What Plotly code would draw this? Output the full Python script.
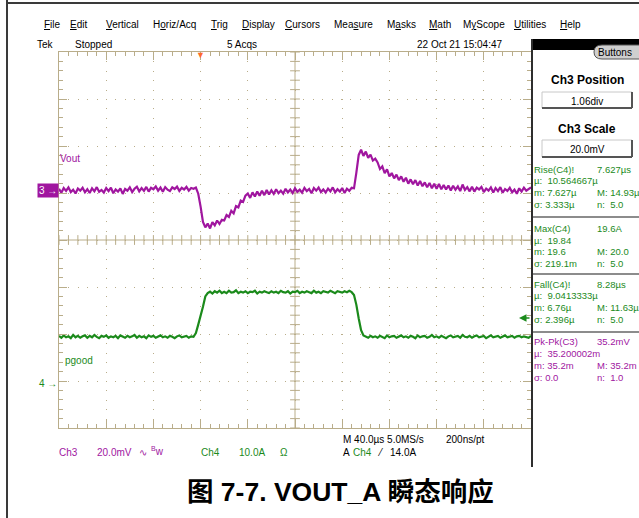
import numpy as np
import plotly.graph_objects as go

# ---- scope settings ----
TIME_DIV = 40.0                    # M 40.0us / div
T_LEFT = -120.0                    # trigger sits 3 div in from the left edge
CH3_SCALE, CH3_POS = 20.0, 1.06    # mV/div, div above centre
CH4_SCALE, CH4_POS = 10.0, -3.06   # A/div, div below centre
TRIG_LEVEL_A = 14.0

# time axis of the captured records (us)
t_us = list(range(-120, 281, 2))

# Ch3: Vout ripple (mV)
vout_mv = [
    0.6, -1.1, 0.9, -0.3, 1.2, -0.8, 0.2, -1.4, 0.7, -0.2,        # -120
    1.0, -0.9, 0.4, -1.2, 0.8, -0.5, 1.3, -0.7, 0.1, -1.0,        # -100
    0.9, -0.4, 1.1, -1.3, 0.3, -0.6, 0.8, -1.6, 0.5, -0.2,        # -80
    1.2, -0.8, 0.6, 1.5, -0.5, 0.9, -0.3, 1.4, -0.6, 1.0,         # -60
    0.4, 1.6, -0.2, 1.1, -0.7, 1.3, 0.2, -0.4, 1.2, 0.5,          # -40
    1.5, -0.3, 1.0, 0.3, 1.4, -0.2, 0.9, 0.6, 1.1, -1.5,          # -20
    -7.0, -13.5, -15.8, -14.2, -16.3, -13.6, -15.0, -12.9, -14.4, -12.6,  # 0
    -12.9, -10.6, -11.4, -8.8, -9.9, -6.8, -7.3, -4.4, -5.0, -2.3,        # 20
    -1.4, -3.3, -0.9, -2.7, -0.6, -2.4, -0.2, -2.1, 0.1, -1.8,    # 40
    -0.1, -1.6, 0.4, -1.3, -0.2, -1.5, 0.6, -0.9, 0.3, -1.2,      # 60
    0.8, -0.7, 0.2, -1.1, 1.0, -0.4, 0.5, -1.3, 0.9, -0.2,        # 80
    1.1, -0.8, 0.3, -1.0, 0.7, -0.5, 1.2, -0.9, 0.4, -0.6,        # 100
    0.9, -1.2, 0.6, -0.3, 1.0, 0.8, 7.5, 15.0, 17.2, 14.6,        # 120
    16.4, 13.8, 15.1, 12.6, 13.4, 11.8, 9.0, 10.1, 7.2, 8.9,      # 140
    5.9, 7.3, 5.0, 6.6, 4.3, 5.9, 3.6, 5.3, 2.8, 4.6,             # 160
    2.5, 4.3, 2.0, 3.9, 1.7, 3.3, 1.2, 3.1, 0.8, 2.7,             # 180
    0.6, 2.6, 0.4, 2.2, 0.3, 2.0, -0.1, 1.9, 0.2, 1.6,            # 200
    -0.4, 2.4, 0.1, 1.3, -0.5, 1.5, -0.6, 1.1, 0.3, 1.4,          # 220
    -0.8, 0.7, -0.2, 1.2, -1.0, 0.9, -0.4, 1.3, -1.1, 0.5,        # 240
    -0.3, 1.0, -0.9, 0.2, -1.5, 0.8, -0.6, 1.1, -0.2, 0.4,        # 260
    1.2,                                                          # 280
]

# Ch4: load current (A)
iload_a = [
    10.2, 9.8, 10.3, 9.9, 10.1, 9.7, 10.4, 9.9, 10.2, 9.8,        # -120
    10.1, 10.3, 9.8, 10.2, 9.9, 10.4, 10.0, 9.7, 10.2, 10.0,      # -100
    10.3, 9.8, 10.1, 9.9, 10.2, 9.7, 10.3, 10.0, 9.8, 10.2,       # -80
    9.9, 10.1, 10.4, 9.8, 10.2, 9.9, 10.1, 9.7, 10.3, 10.0,       # -60
    10.2, 9.8, 10.0, 10.3, 9.9, 10.1, 9.8, 10.2, 10.0, 9.7,       # -40
    10.1, 10.3, 9.9, 10.0, 10.2, 9.8, 10.1, 10.0, 10.8, 12.6,     # -20
    14.3, 16.4, 18.6, 19.3, 19.6, 19.2, 19.7, 19.4, 19.8, 19.3,   # 0
    19.6, 19.3, 19.8, 19.4, 19.5, 19.9, 19.3, 19.6, 19.4, 19.7,   # 20
    19.3, 19.6, 19.5, 19.8, 19.2, 19.6, 19.4, 19.7, 19.5, 19.3,   # 40
    19.7, 19.4, 19.6, 19.3, 19.8, 19.5, 19.4, 19.7, 19.2, 19.6,   # 60
    19.5, 19.8, 19.3, 19.6, 19.4, 19.7, 19.5, 19.3, 19.8, 19.4,   # 80
    19.6, 19.3, 19.7, 19.5, 19.4, 19.8, 19.6, 19.3, 19.7, 19.5,   # 100
    19.4, 19.7, 19.5, 19.8, 19.5, 18.9, 16.8, 13.9, 11.4, 10.3,   # 120
    10.1, 9.8, 10.2, 9.9, 10.1, 9.8, 10.2, 10.0, 9.7, 10.3,       # 140
    9.9, 10.1, 10.2, 9.8, 10.0, 10.3, 9.9, 10.1, 9.8, 10.2,       # 160
    10.0, 9.7, 10.3, 9.9, 10.1, 10.2, 9.8, 10.0, 10.4, 9.9,       # 180
    10.1, 9.8, 10.2, 10.0, 9.7, 10.1, 10.3, 9.9, 10.0, 10.2,      # 200
    9.8, 10.4, 10.0, 9.9, 10.2, 9.8, 10.1, 10.3, 9.9, 10.0,       # 220
    10.2, 9.7, 10.1, 10.3, 9.9, 10.0, 10.2, 9.8, 10.1, 10.3,      # 240
    9.9, 10.0, 10.2, 9.8, 10.1, 10.2, 9.9, 10.1, 10.0, 9.8,       # 260
    10.2,                                                         # 280
]

menu_items = ["<u>F</u>ile", "<u>E</u>dit", "<u>V</u>ertical", "H<u>o</u>riz/Acq", "<u>T</u>rig",
              "<u>D</u>isplay", "<u>C</u>ursors", "Mea<u>s</u>ure", "M<u>a</u>sks", "<u>M</u>ath",
              "M<u>y</u>Scope", "<u>U</u>tilities", "<u>H</u>elp"]
menu_x = [44, 70, 106, 153, 211, 242, 285, 334, 387, 429, 463, 514, 560]

# measurement readouts: name, value, mean, min, max, std-dev, count
meas_green = [
    ["Rise(C4)!", "7.627µs", "µ:  10.564667µ", "m: 7.627µ", "M: 14.93µ", "σ: 3.333µ", "n:  5.0"],
    ["Max(C4)", "19.6A", "µ:  19.84", "m: 19.6", "M: 20.0", "σ: 219.1m", "n:  5.0"],
    ["Fall(C4)!", "8.28µs", "µ:  9.0413333µ", "m: 6.76µ", "M: 11.63µ", "σ: 2.396µ", "n:  5.0"],
]
meas_purple = ["Pk-Pk(C3)", "35.2mV", "µ:  35.200002m", "m: 35.2m", "M: 35.2m", "σ: 0.0", "n:  1.0"]

PURPLE = "#a0169f"
GREEN = "#1b8a1b"
GRAT = "#b9ad8a"
UI = "Liberation Sans, Arial, sans-serif"

W, H = 639, 518
X0, X1, Y0, Y1 = 59, 531, 52, 428   # graticule box in page pixels


def px(x):
    return (x - X0) / (X1 - X0)


def py(y):
    return (Y1 - y) / (Y1 - Y0)


notes, shapes = [], []


def text(x, y, s, color="black", size=10, anchor="left", bold=False, family=UI):
    notes.append(dict(x=px(x), y=py(y), xref="paper", yref="paper",
                      text=f"<b>{s}</b>" if bold else s, showarrow=False,
                      xanchor=anchor, yanchor="middle", borderpad=0,
                      font=dict(family=family, size=size, color=color)))


def seg(x0, y0, x1, y1, color, w=1):
    shapes.append(dict(type="line", xref="paper", yref="paper", x0=px(x0), y0=py(y0),
                       x1=px(x1), y1=py(y1), line=dict(color=color, width=w)))


def rect(x0, y0, x1, y1, fill, line_color=None, w=1):
    shapes.append(dict(type="rect", xref="paper", yref="paper", x0=px(x0), y0=py(y0),
                       x1=px(x1), y1=py(y1), fillcolor=fill,
                       line=dict(color=line_color or fill, width=w if line_color else 0)))


fig = go.Figure()

# ---- graticule centre cross ticks ----
t_c = T_LEFT + 5 * TIME_DIV
tick_t = np.arange(T_LEFT, T_LEFT + 10 * TIME_DIV + 0.1, TIME_DIV / 5)
tick_d = np.arange(-4, 4.01, 0.2)
fig.add_trace(go.Scatter(x=tick_t, y=np.zeros_like(tick_t), mode="markers", hoverinfo="skip",
                         marker=dict(symbol="line-ns", size=7, line=dict(width=1, color=GRAT))))
fig.add_trace(go.Scatter(x=np.full_like(tick_d, t_c), y=tick_d, mode="markers", hoverinfo="skip",
                         marker=dict(symbol="line-ew", size=7, line=dict(width=1, color=GRAT))))
shapes.append(dict(type="line", xref="x", yref="y", x0=t_c, x1=t_c, y0=-4, y1=4,
                   line=dict(color=GRAT, width=1), layer="below"))
shapes.append(dict(type="line", xref="x", yref="y", x0=T_LEFT, x1=T_LEFT + 10 * TIME_DIV,
                   y0=0, y1=0, line=dict(color=GRAT, width=1), layer="below"))

# ---- waveforms ----
fig.add_trace(go.Scatter(x=t_us, y=vout_mv, yaxis="y2", mode="lines", name="Vout",
                         line=dict(color=PURPLE, width=2.2)))
fig.add_trace(go.Scatter(x=t_us, y=iload_a, yaxis="y3", mode="lines", name="pgood",
                         line=dict(color=GREEN, width=2.2)))

# trigger position / level markers
notes.append(dict(x=0, y=py(54), xref="x", yref="paper", text="▼", showarrow=False,
                  font=dict(size=9, color="#ff6a2a"), yanchor="middle"))
notes.append(dict(x=px(519), y=TRIG_LEVEL_A, xref="paper", yref="y3", text="", showarrow=True,
                  ax=12, ay=0, arrowhead=2, arrowsize=1, arrowwidth=1.5, arrowcolor=GREEN))
# channel ground markers
notes.append(dict(x=px(59), y=0, xref="paper", yref="y2", text="3 →", showarrow=False,
                  xanchor="right", yanchor="middle", bgcolor=PURPLE, borderpad=1,
                  font=dict(family=UI, size=10, color="white")))
notes.append(dict(x=px(59), y=0, xref="paper", yref="y3", text="4 →", showarrow=False,
                  xanchor="right", yanchor="middle",
                  font=dict(family=UI, size=10, color=GREEN)))
text(59, 158, "Vout", PURPLE)
text(64, 360, "pgood", GREEN)

# ---- window chrome ----
seg(7, 0, 7, H, "#3a3a3a", 2)
seg(7, 3, W, 3, "#3a3a3a", 2)
for s, x in zip(menu_items, menu_x):
    text(x - 1, 25, s)
text(36, 44, "Tek")
text(74, 44, "Stopped")
text(226, 44, "5 Acqs")
text(416, 44, "22 Oct 21 15:04:47")

# side panel
rect(532, 39, W, 50, "black")
shapes.append(dict(type="path", xref="paper", yref="paper",
                   path=f"M {px(602)},{py(45)} L {px(645)},{py(45)} L {px(645)},{py(59)} "
                        f"L {px(602)},{py(59)} Q {px(594)},{py(59)} {px(594)},{py(52)} "
                        f"Q {px(594)},{py(45)} {px(602)},{py(45)} Z",
                   fillcolor="#cfcfcf", line=dict(color="#555555", width=1)))
text(615, 52, "Buttons", size=10, anchor="center")
seg(532, 39, 532, 467, "#2e2e2e", 2)

text(587, 80, "Ch3 Position", size=12, anchor="center", bold=True)
rect(542, 92, 632, 108, "white", "#c8c8c8")
seg(542, 108, 632, 108, "#555555", 2)
seg(632, 92, 632, 108, "#555555", 2)
text(587, 101, "1.06div", anchor="center")
text(587, 129, "Ch3 Scale", size=12, anchor="center", bold=True)
rect(542, 140, 632, 157, "white", "#c8c8c8")
seg(542, 157, 632, 157, "#555555", 2)
seg(632, 140, 632, 157, "#555555", 2)
text(587, 149, "20.0mV", anchor="center")

row_y = [[169, 180, 192, 204], [228, 240, 251, 263], [284, 295, 307, 319], [341, 353, 365, 377]]
for block, ys, col in zip(meas_green + [meas_purple], row_y, [GREEN] * 3 + [PURPLE]):
    name, val, mu, lo, hi, sd, n = block
    text(533, ys[0], name, col, size=9.5)
    text(596, ys[0], val, col, size=9.5)
    text(533, ys[1], mu, col, size=9.5)
    text(533, ys[2], lo, col, size=9.5)
    text(596, ys[2], hi, col, size=9.5)
    text(533, ys[3], sd, col, size=9.5)
    text(596, ys[3], n, col, size=9.5)
for y in [217, 274, 332]:
    seg(533, y, W, y, "#8c8c8c", 2)

# status line under the graticule
text(58, 452, "Ch3", PURPLE)
text(96, 452, "20.0mV", PURPLE)
text(138, 452, "∿", PURPLE)
text(150, 451, "<sup>B</sup>w", PURPLE)
text(200, 452, "Ch4", GREEN)
text(238, 452, "10.0A", GREEN)
text(279, 452, "Ω", GREEN)
text(342, 439, "M 40.0µs 5.0MS/s")
text(445, 439, "200ns/pt")
text(342, 452, "A")
text(352, 452, "Ch4", GREEN)
text(376, 452, "⁄")
text(389, 452, "14.0A")

# caption
text(340, 492, "图 7-7. VOUT_A 瞬态响应", size=26.5, anchor="center", bold=True,
     family="Liberation Sans, Noto Sans CJK SC, sans-serif")

grat = dict(showline=True, linecolor=GRAT, linewidth=1, mirror="ticks",
            ticks="inside", ticklen=8, tickcolor=GRAT, tickwidth=1,
            showgrid=True, gridcolor=GRAT, gridwidth=1, griddash="1px,8.4px",
            showticklabels=False, zeroline=False, fixedrange=True)

fig.update_layout(
    width=W, height=H, autosize=False,
    margin=dict(l=X0, r=W - X1, t=Y0, b=H - Y1, pad=0),
    paper_bgcolor="white", plot_bgcolor="white",
    showlegend=False,
    xaxis=dict(range=[T_LEFT, T_LEFT + 10 * TIME_DIV], tick0=T_LEFT, dtick=TIME_DIV,
               minor=dict(ticks="inside", ticklen=4, dtick=TIME_DIV / 5, tick0=T_LEFT,
                          tickcolor=GRAT, showgrid=False), **grat),
    yaxis=dict(range=[-4, 4], tick0=-4, dtick=1,
               minor=dict(ticks="inside", ticklen=4, dtick=0.2, tick0=-4,
                          tickcolor=GRAT, showgrid=False), **grat),
    yaxis2=dict(overlaying="y", visible=False, fixedrange=True,
                range=[(-4 - CH3_POS) * CH3_SCALE, (4 - CH3_POS) * CH3_SCALE]),
    yaxis3=dict(overlaying="y", visible=False, fixedrange=True,
                range=[(-4 - CH4_POS) * CH4_SCALE, (4 - CH4_POS) * CH4_SCALE]),
    annotations=notes,
    shapes=shapes,
)

# page body margin off so the figure sits at the window origin like the screenshot
fig.write_html("out.html", config={"displayModeBar": False},
               post_script="document.body.style.margin='0';")
